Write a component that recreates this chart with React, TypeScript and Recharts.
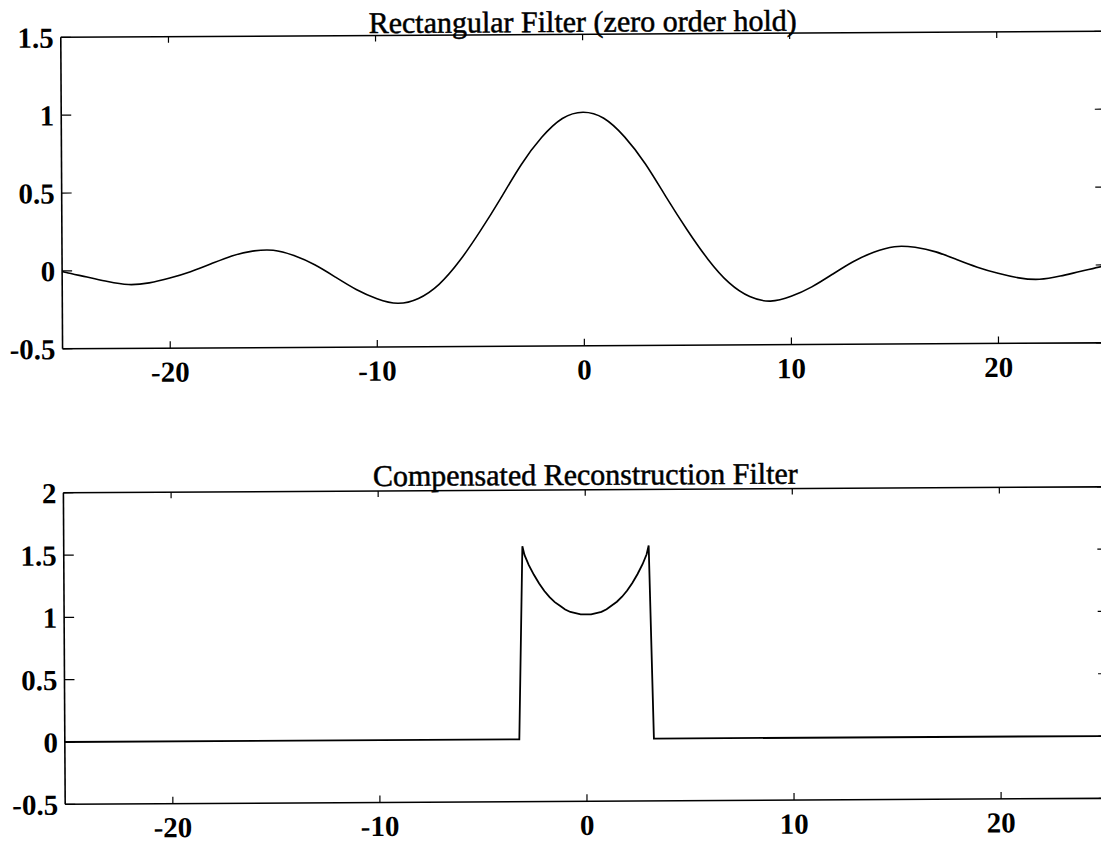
import { LineChart, Line, XAxis, YAxis } from 'recharts';

const FONT = '"Liberation Serif", "Times New Roman", serif';

const X_DOMAIN: [number, number] = [-25.2, 25.2];
const X_TICKS = [-20, -10, 0, 10, 20];
const RECT_Y_TICKS = [-0.5, 0, 0.5, 1, 1.5];
const COMP_Y_TICKS = [-0.5, 0, 0.5, 1, 1.5, 2];

// top panel: rectangular filter response
const RECT_X = [
  -25.2, -25, -24, -23, -22, -21, -20, -19, -18, -17, -16, -15, -14, -13, -12, -11, -10, -9, -8, -7, -6, -5, -4, -3,
  -2, -1, 0, 1, 2, 3, 4, 5, 6, 7, 8, 9, 10, 11, 12, 13, 14, 15, 16, 17, 18, 19, 20, 21, 22, 23, 24, 25, 25.2,
];
const RECT_Y = [
  0.0, -0.01, -0.04, -0.07, -0.09, -0.08, -0.05, -0.01, 0.04, 0.09, 0.12, 0.125, 0.09, 0.03, -0.05, -0.13, -0.19,
  -0.22, -0.19, -0.1, 0.05, 0.24, 0.45, 0.665, 0.84, 0.96, 1.0, 0.96, 0.84, 0.665, 0.45, 0.24, 0.05, -0.1, -0.19,
  -0.22, -0.19, -0.13, -0.05, 0.03, 0.09, 0.125, 0.12, 0.09, 0.04, -0.01, -0.05, -0.08, -0.09, -0.07, -0.04, -0.01,
  0.0,
];

// bottom panel: compensated reconstruction filter
const COMP_X = [
  -25.2, -3.25, -3.05, -2.95, -2.75, -2.5, -2.25, -2, -1.75, -1.5, -1.25, -1, -0.75, -0.5, -0.25, 0, 0.25, 0.5, 0.75,
  1, 1.25, 1.5, 1.75, 2, 2.25, 2.5, 2.75, 2.95, 3.05, 3.25, 25.2,
];
const COMP_Y = [
  0, 0, 1.55, 1.48, 1.4, 1.32, 1.25, 1.19, 1.14, 1.1, 1.07, 1.04, 1.02, 1.01, 1.0, 1.0, 1.0, 1.01, 1.02, 1.04, 1.07,
  1.1, 1.14, 1.19, 1.25, 1.32, 1.4, 1.48, 1.55, 0, 0,
];

const rectData = RECT_X.map((x, i) => ({ x, y: RECT_Y[i] }));
const compData = COMP_X.map((x, i) => ({ x, y: COMP_Y[i] }));

const tickStyle = { fill: '#000', fontSize: 29, fontWeight: 'bold' as const, fontFamily: FONT };
const axisLine = { stroke: '#000', strokeWidth: 1.6 };
const tickLine = { stroke: '#000', strokeWidth: 1.2 };
const noLabel = () => '';

function Panel({
  data,
  yDomain,
  yTicks,
  height,
  marginTop,
  marginBottom,
  curve,
  lineWidth,
}: {
  data: { x: number; y: number }[];
  yDomain: [number, number];
  yTicks: number[];
  height: number;
  marginTop: number;
  marginBottom: number;
  curve: 'natural' | 'linear';
  lineWidth: number;
}) {
  return (
    <LineChart
      width={1108}
      height={height}
      data={data}
      margin={{ top: marginTop - 1, right: 0.4, bottom: marginBottom, left: 0 }}
    >
      <XAxis
        dataKey="x"
        type="number"
        domain={X_DOMAIN}
        ticks={X_TICKS}
        interval={0}
        allowDataOverflow
        height={30}
        tickSize={-7}
        tickMargin={20}
        tick={tickStyle}
        axisLine={axisLine}
        tickLine={tickLine}
      />
      <XAxis
        xAxisId="top"
        orientation="top"
        dataKey="x"
        type="number"
        domain={X_DOMAIN}
        ticks={X_TICKS}
        interval={0}
        allowDataOverflow
        height={1}
        tickSize={-6}
        tickFormatter={noLabel}
        axisLine={axisLine}
        tickLine={tickLine}
      />
      <YAxis
        type="number"
        domain={yDomain}
        ticks={yTicks}
        interval={0}
        allowDataOverflow
        width={63}
        tickSize={-10}
        tickMargin={17}
        tickFormatter={(v: number) => String(v)}
        tick={tickStyle}
        axisLine={axisLine}
        tickLine={tickLine}
      />
      <YAxis
        yAxisId="right"
        orientation="right"
        type="number"
        domain={yDomain}
        ticks={yTicks}
        interval={0}
        allowDataOverflow
        width={1}
        tickSize={-10}
        tickFormatter={noLabel}
        axisLine={axisLine}
        tickLine={tickLine}
      />
      {/* hidden copy so the top / right frame axes get drawn */}
      <Line
        xAxisId="top"
        yAxisId="right"
        dataKey="y"
        type={curve}
        stroke="none"
        dot={false}
        activeDot={false}
        isAnimationActive={false}
      />
      <Line
        dataKey="y"
        type={curve}
        stroke="#000"
        strokeWidth={lineWidth}
        dot={false}
        isAnimationActive={false}
      />
    </LineChart>
  );
}

const titleStyle = {
  fontFamily: FONT,
  fontSize: 30,
  fill: '#000',
  stroke: '#000',
  strokeWidth: 0.5,
};

export default function App() {
  return (
    <div
      style={{
        position: 'absolute',
        left: 0,
        top: 0,
        width: 1101,
        height: 844,
        overflow: 'hidden',
        background: '#fff',
      }}
    >
      <div
        style={{
          position: 'absolute',
          left: 0,
          top: 0,
          width: 1108,
          height: 844,
          transform: 'rotate(-0.33deg)',
          transformOrigin: '550px 422px',
        }}
      >
        <div style={{ position: 'absolute', left: 0, top: 0 }}>
          <Panel
            data={rectData}
            yDomain={[-0.5, 1.5]}
            yTicks={RECT_Y_TICKS}
            height={410}
            marginTop={34.5}
            marginBottom={34}
            curve="natural"
            lineWidth={1.6}
          />
        </div>
        <div style={{ position: 'absolute', left: 0, top: 410 }}>
          <Panel
            data={compData}
            yDomain={[-0.5, 2]}
            yTicks={COMP_Y_TICKS}
            height={434}
            marginTop={80}
            marginBottom={12.5}
            curve="linear"
            lineWidth={1.8}
          />
        </div>
        <svg
          width={1108}
          height={844}
          style={{ position: 'absolute', left: 0, top: 0, pointerEvents: 'none' }}
        >
          <text x={585} y={32} textAnchor="middle" style={titleStyle}>
            Rectangular Filter (zero order hold)
          </text>
          <text x={585} y={485} textAnchor="middle" style={titleStyle}>
            Compensated Reconstruction Filter
          </text>
        </svg>
      </div>
    </div>
  );
}
